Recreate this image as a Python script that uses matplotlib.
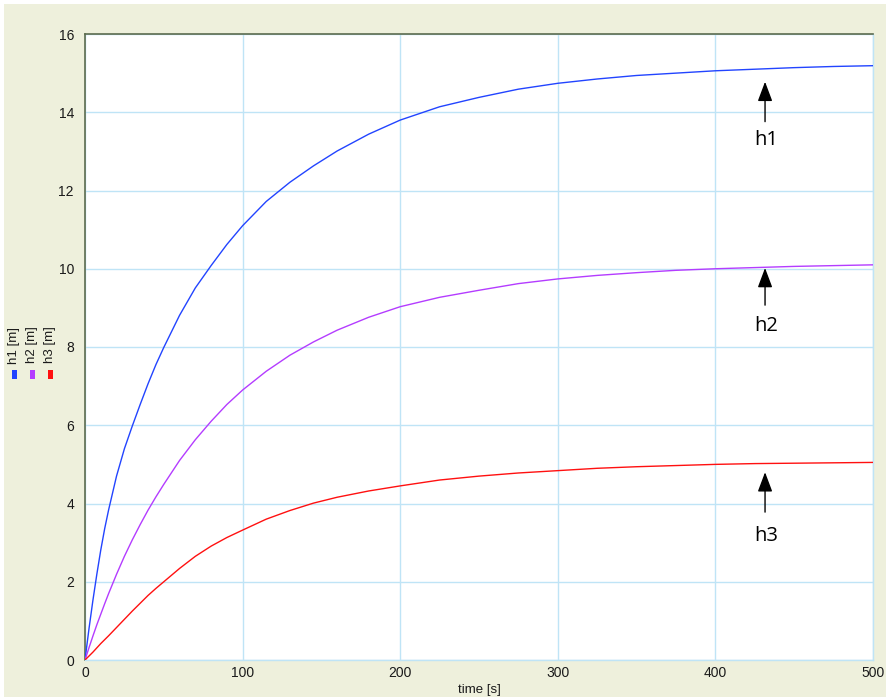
import matplotlib
matplotlib.use("Agg")
import matplotlib.pyplot as plt
from matplotlib.patches import Rectangle

# Simulated tank levels over time
time_s = [0, 2.5, 5, 7.5, 10, 12.5, 15, 20, 25, 30, 35, 40, 45, 50, 60, 70, 80,
          90, 100, 115, 130, 145, 160, 180, 200, 225, 250, 275, 300, 325, 350,
          375, 400, 425, 450, 475, 500]
h1 = [0, 0.79, 1.52, 2.19, 2.81, 3.36, 3.84, 4.70, 5.40, 5.98, 6.53, 7.06, 7.55,
      7.99, 8.81, 9.51, 10.08, 10.62, 11.10, 11.72, 12.21, 12.63, 13.01, 13.44,
      13.80, 14.14, 14.38, 14.59, 14.74, 14.85, 14.94, 15.00, 15.06, 15.10,
      15.14, 15.17, 15.19]
h2 = [0, 0.31, 0.61, 0.90, 1.17, 1.44, 1.70, 2.19, 2.65, 3.07, 3.46, 3.83, 4.17,
      4.49, 5.10, 5.63, 6.10, 6.53, 6.90, 7.38, 7.79, 8.13, 8.43, 8.76, 9.03,
      9.27, 9.45, 9.62, 9.74, 9.83, 9.90, 9.96, 10.00, 10.03, 10.06, 10.08, 10.10]
h3 = [0, 0.10, 0.20, 0.31, 0.42, 0.52, 0.62, 0.83, 1.04, 1.25, 1.45, 1.65, 1.83,
      2.00, 2.34, 2.65, 2.91, 3.13, 3.32, 3.60, 3.82, 4.01, 4.16, 4.32, 4.45,
      4.60, 4.70, 4.78, 4.84, 4.90, 4.94, 4.97, 5.00, 5.02, 5.03, 5.04, 5.05]

series_names = ["h1", "h2", "h3"]
series_colors = ["#2244ff", "#b43cff", "#ff1010"]

# Arrow annotations: shared x, arrow tip, arrow tail and label height
arrow_x = 431.5
arrow_tips = [14.78, 10.02, 4.8]
arrow_tails = [13.76, 9.07, 3.78]
label_ys = [13.28, 8.53, 3.16]

x_ticks = [0, 100, 200, 300, 400, 500]
y_ticks = [0, 2, 4, 6, 8, 10, 12, 14, 16]

W, H = 887, 697
fig = plt.figure(figsize=(W / 100, H / 100), dpi=100, facecolor="white")
fig.patches.append(Rectangle((4 / W, 0), 1, 1 - 4 / H, transform=fig.transFigure,
                             facecolor="#eef0dc", edgecolor="none", zorder=-10))

ax = fig.add_axes([85 / W, 1 - 660 / H, (873 - 85) / W, (660 - 34) / H])
ax.set_facecolor("white")

grid_color = "#bfe4f6"
for s, data in zip(range(3), [h1, h2, h3]):
    ax.plot(time_s, data, color=series_colors[s], lw=1.0, zorder=3)

ax.set_xlim(0, 500)
ax.set_ylim(0, 16)
ax.set_xticks(x_ticks)
ax.set_yticks(y_ticks)
ax.grid(True, color=grid_color, lw=1.0, zorder=1)
ax.set_axisbelow(True)
ax.tick_params(length=0, labelsize=10, colors="#1a1a1a", pad=8)
for lbl in ax.get_xticklabels() + ax.get_yticklabels():
    lbl.set_family("Liberation Sans")
ax.tick_params(axis="x", pad=4)

for side in ["top", "left"]:
    ax.spines[side].set_color("#5c6b4f")
    ax.spines[side].set_linewidth(1.2)
for side in ["right", "bottom"]:
    ax.spines[side].set_color(grid_color)
    ax.spines[side].set_linewidth(1.0)

ax.set_xlabel("time [s]", fontsize=9.5, family="Liberation Sans", labelpad=3,
              color="#1a1a1a")

# Stacked vertical series labels with colour keys
for i, (name, col) in enumerate(zip(series_names, series_colors)):
    xc = (14.5 + 18 * i) / W
    fig.text(xc, 1 - 345 / H, f"{name} [m]", rotation=90, ha="center", va="center",
             fontsize=9.5, family="Liberation Sans", color="#1a1a1a")
    fig.patches.append(Rectangle(((12 + 18 * i) / W, 1 - 379 / H), 5 / W, 9 / H,
                                 transform=fig.transFigure, facecolor=col,
                                 edgecolor="none", zorder=2))

for name, tip, tail, ly in zip(series_names, arrow_tips, arrow_tails, label_ys):
    ax.annotate("", xy=(arrow_x, tip), xytext=(arrow_x, tail),
                arrowprops=dict(arrowstyle="-|>,head_length=1.2,head_width=0.45",
                                mutation_scale=10, color="black", lw=1.0,
                                shrinkA=0, shrinkB=0), zorder=4)
    ax.text(arrow_x + 1, ly, name, ha="center", va="center", fontsize=14.5,
            family="Open Sans", color="black", zorder=4)

fig.savefig("out.png", dpi=100, facecolor=fig.get_facecolor())
